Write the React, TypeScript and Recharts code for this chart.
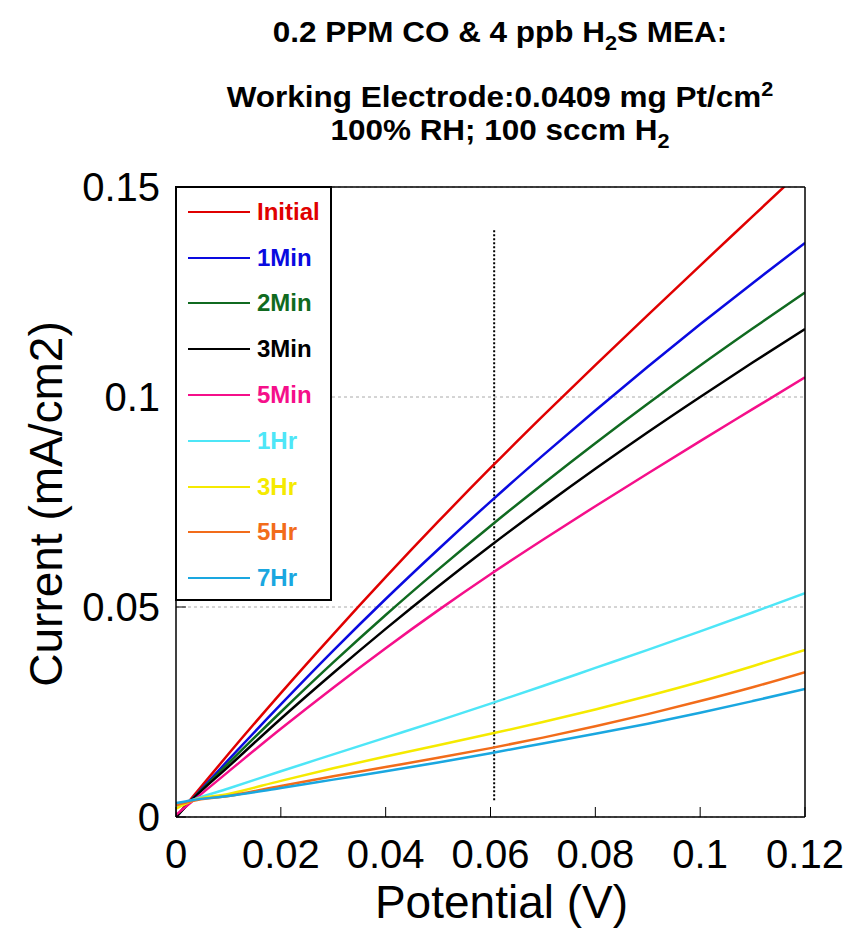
import React from "react";
import {
  LineChart,
  Line,
  XAxis,
  YAxis,
  CartesianGrid,
  ReferenceLine,
  Legend,
  Label,
} from "recharts";

// ---- data ----
const potential = [0, 0.003, 0.01, 0.02, 0.03, 0.04, 0.05, 0.06, 0.07, 0.08, 0.09, 0.1, 0.11, 0.12];

const initial = [0, 0.0045, 0.015, 0.0295, 0.0435, 0.0571, 0.0703, 0.0831, 0.0955, 0.1076, 0.1195, 0.1313, 0.143, 0.1547];
const min1 = [0, 0.0041, 0.0136, 0.0268, 0.0396, 0.0519, 0.0637, 0.0751, 0.0861, 0.0968, 0.1072, 0.1173, 0.1271, 0.1367];
const min2 = [0, 0.004, 0.0128, 0.025, 0.0368, 0.0481, 0.0589, 0.0693, 0.0793, 0.089, 0.0984, 0.1075, 0.1163, 0.1249];
const min3 = [0, 0.004, 0.012, 0.0234, 0.0343, 0.0448, 0.0549, 0.0646, 0.0739, 0.0829, 0.0916, 0.1, 0.1082, 0.1162];
const min5 = [0.0005, 0.0036, 0.0108, 0.021, 0.0308, 0.0402, 0.0492, 0.0578, 0.066, 0.074, 0.0818, 0.0895, 0.0971, 0.1047];
const hr1 = [0.0025, 0.004, 0.0068, 0.0109, 0.0149, 0.0189, 0.0229, 0.027, 0.0312, 0.0355, 0.0398, 0.0442, 0.0487, 0.0533];
const hr3 = [0.002, 0.0038, 0.0055, 0.0086, 0.0116, 0.0144, 0.0171, 0.0198, 0.0226, 0.0256, 0.0288, 0.0322, 0.0359, 0.0398];
const hr5 = [0.0028, 0.0038, 0.005, 0.0074, 0.0097, 0.0119, 0.0141, 0.0164, 0.0189, 0.0216, 0.0245, 0.0276, 0.0309, 0.0345];
const hr7 = [0.0033, 0.004, 0.005, 0.0069, 0.0089, 0.0109, 0.013, 0.0152, 0.0175, 0.0198, 0.0222, 0.0248, 0.0276, 0.0305];

const seriesNames = ["Initial", "1Min", "2Min", "3Min", "5Min", "1Hr", "3Hr", "5Hr", "7Hr"];
const seriesKeys = ["initial", "min1", "min2", "min3", "min5", "hr1", "hr3", "hr5", "hr7"];
const seriesColors = ["#e00000", "#0a0ae0", "#106a20", "#000000", "#f50f8a", "#4ee6f7", "#f5ea00", "#f26c1a", "#1aa7e0"];
const seriesValues = [initial, min1, min2, min3, min5, hr1, hr3, hr5, hr7];

const xTicks = [0, 0.02, 0.04, 0.06, 0.08, 0.1, 0.12];
const yTicks = [0, 0.05, 0.1, 0.15];
const markerPotential = 0.0607;
const markerRange = [0.004, 0.14];

const data = potential.map((p, i) => {
  const row: Record<string, number> = { p };
  seriesKeys.forEach((k, j) => {
    row[k] = seriesValues[j][i];
  });
  return row;
});

const FONT = "'Liberation Sans', Arial, Helvetica, sans-serif";

const renderLegend = () => (
  <div
    style={{
      boxSizing: "border-box",
      width: 157,
      height: 415,
      border: "2px solid #000",
      background: "#fff",
      paddingTop: 1,
    }}
  >
    {seriesNames.map((name, i) => (
      <div key={name} style={{ height: 45.8, display: "flex", alignItems: "center" }}>
        <div style={{ marginLeft: 11, width: 62, height: 0, borderTop: `2px solid ${seriesColors[i]}` }} />
        <span
          style={{
            marginLeft: 7,
            color: seriesColors[i],
            fontWeight: "bold",
            fontSize: 24,
            fontFamily: FONT,
            lineHeight: "24px",
          }}
        >
          {name}
        </span>
      </div>
    ))}
  </div>
);

const XTitle = (props: any) => {
  const vb = props.viewBox;
  return (
    <text
      x={vb.x + vb.width / 2 + 11}
      y={vb.y + 101}
      textAnchor="middle"
      style={{ fontFamily: FONT, fontSize: 46, fill: "#000" }}
    >
      Potential (V)
    </text>
  );
};

const YTitle = (props: any) => {
  const vb = props.viewBox;
  const cy = vb.y + vb.height / 2 + 2;
  const cx = 62;
  return (
    <text
      x={cx}
      y={cy}
      transform={`rotate(-90, ${cx}, ${cy})`}
      textAnchor="middle"
      style={{ fontFamily: FONT, fontSize: 46, fill: "#000" }}
    >
      Current (mA/cm2)
    </text>
  );
};

const titleLine: React.CSSProperties = {
  position: "absolute",
  left: 200,
  width: 600,
  height: 29,
  textAlign: "center",
  fontFamily: FONT,
  fontWeight: "bold",
  fontSize: 29,
  lineHeight: "29px",
  color: "#000",
  whiteSpace: "nowrap",
  transform: "scaleX(1.085)",
  transformOrigin: "center",
};
const subStyle: React.CSSProperties = { fontSize: 20, lineHeight: 0, position: "relative", top: 8 };
const supStyle: React.CSSProperties = { fontSize: 20, lineHeight: 0, position: "relative", top: -11 };

export default function App() {
  return (
    <div style={{ position: "absolute", left: 0, top: 0, width: 856, height: 930, background: "#fff" }}>
      <div style={{ ...titleLine, top: 18 }}>
        0.2 PPM CO &amp; 4 ppb H<span style={subStyle}>2</span>S MEA:
      </div>
      <div style={{ ...titleLine, top: 83 }}>
        Working Electrode:0.0409 mg Pt/cm<span style={supStyle}>2</span>
      </div>
      <div style={{ ...titleLine, top: 116 }}>
        100% RH; 100 sccm H<span style={subStyle}>2</span>
      </div>
      <div style={{ position: "absolute", left: 0, top: 0 }}>
        <LineChart
          width={856}
          height={930}
          data={data}
          margin={{ top: 177, right: 41, bottom: 33, left: 36 }}
        >
          <CartesianGrid vertical={false} stroke="#aaaaaa" strokeDasharray="3 3" strokeWidth={1} />
          <XAxis
            dataKey="p"
            type="number"
            domain={[0, 0.12]}
            ticks={xTicks}
            interval={0}
            allowDataOverflow
            height={80}
            tickSize={-10}
            tickMargin={33}
            axisLine={{ stroke: "#000", strokeWidth: 1.5 }}
            tickLine={{ stroke: "#000", strokeWidth: 1 }}
            tick={{ fill: "#000", fontSize: 40, fontFamily: FONT }}
          >
            <Label content={XTitle} />
          </XAxis>
          <XAxis
            xAxisId="top"
            orientation="top"
            dataKey="p"
            type="number"
            domain={[0, 0.12]}
            ticks={xTicks}
            interval={0}
            allowDataOverflow
            height={10}
            tickSize={-10}
            axisLine={{ stroke: "#000", strokeWidth: 1.5 }}
            tickLine={{ stroke: "#000", strokeWidth: 1 }}
            tick={false}
          />
          <YAxis
            type="number"
            domain={[0, 0.15]}
            ticks={yTicks}
            interval={0}
            allowDataOverflow
            width={140}
            tickSize={-10}
            tickMargin={26}
            axisLine={{ stroke: "#000", strokeWidth: 1.5 }}
            tickLine={{ stroke: "#000", strokeWidth: 1 }}
            tick={{ fill: "#000", fontSize: 40, fontFamily: FONT }}
          >
            <Label content={YTitle} />
          </YAxis>
          <YAxis
            yAxisId="right"
            orientation="right"
            type="number"
            domain={[0, 0.15]}
            ticks={yTicks}
            interval={0}
            allowDataOverflow
            width={10}
            tickSize={-10}
            axisLine={{ stroke: "#000", strokeWidth: 1.5 }}
            tickLine={{ stroke: "#000", strokeWidth: 1 }}
            tick={false}
          />
          <ReferenceLine
            segment={[
              { x: markerPotential, y: markerRange[0] },
              { x: markerPotential, y: markerRange[1] },
            ]}
            stroke="#000"
            strokeWidth={2}
            strokeDasharray="2 2"
          />
          {seriesKeys.map((k, i) => (
            <Line
              key={k}
              dataKey={k}
              name={seriesNames[i]}
              type="monotone"
              stroke={seriesColors[i]}
              strokeWidth={2.5}
              dot={false}
              activeDot={false}
              isAnimationActive={false}
            />
          ))}
          <Legend
            layout="vertical"
            align="center"
            verticalAlign="middle"
            content={renderLegend}
            wrapperStyle={{ left: 175, top: 186, width: 157, height: 415 }}
          />
        </LineChart>
      </div>
    </div>
  );
}
